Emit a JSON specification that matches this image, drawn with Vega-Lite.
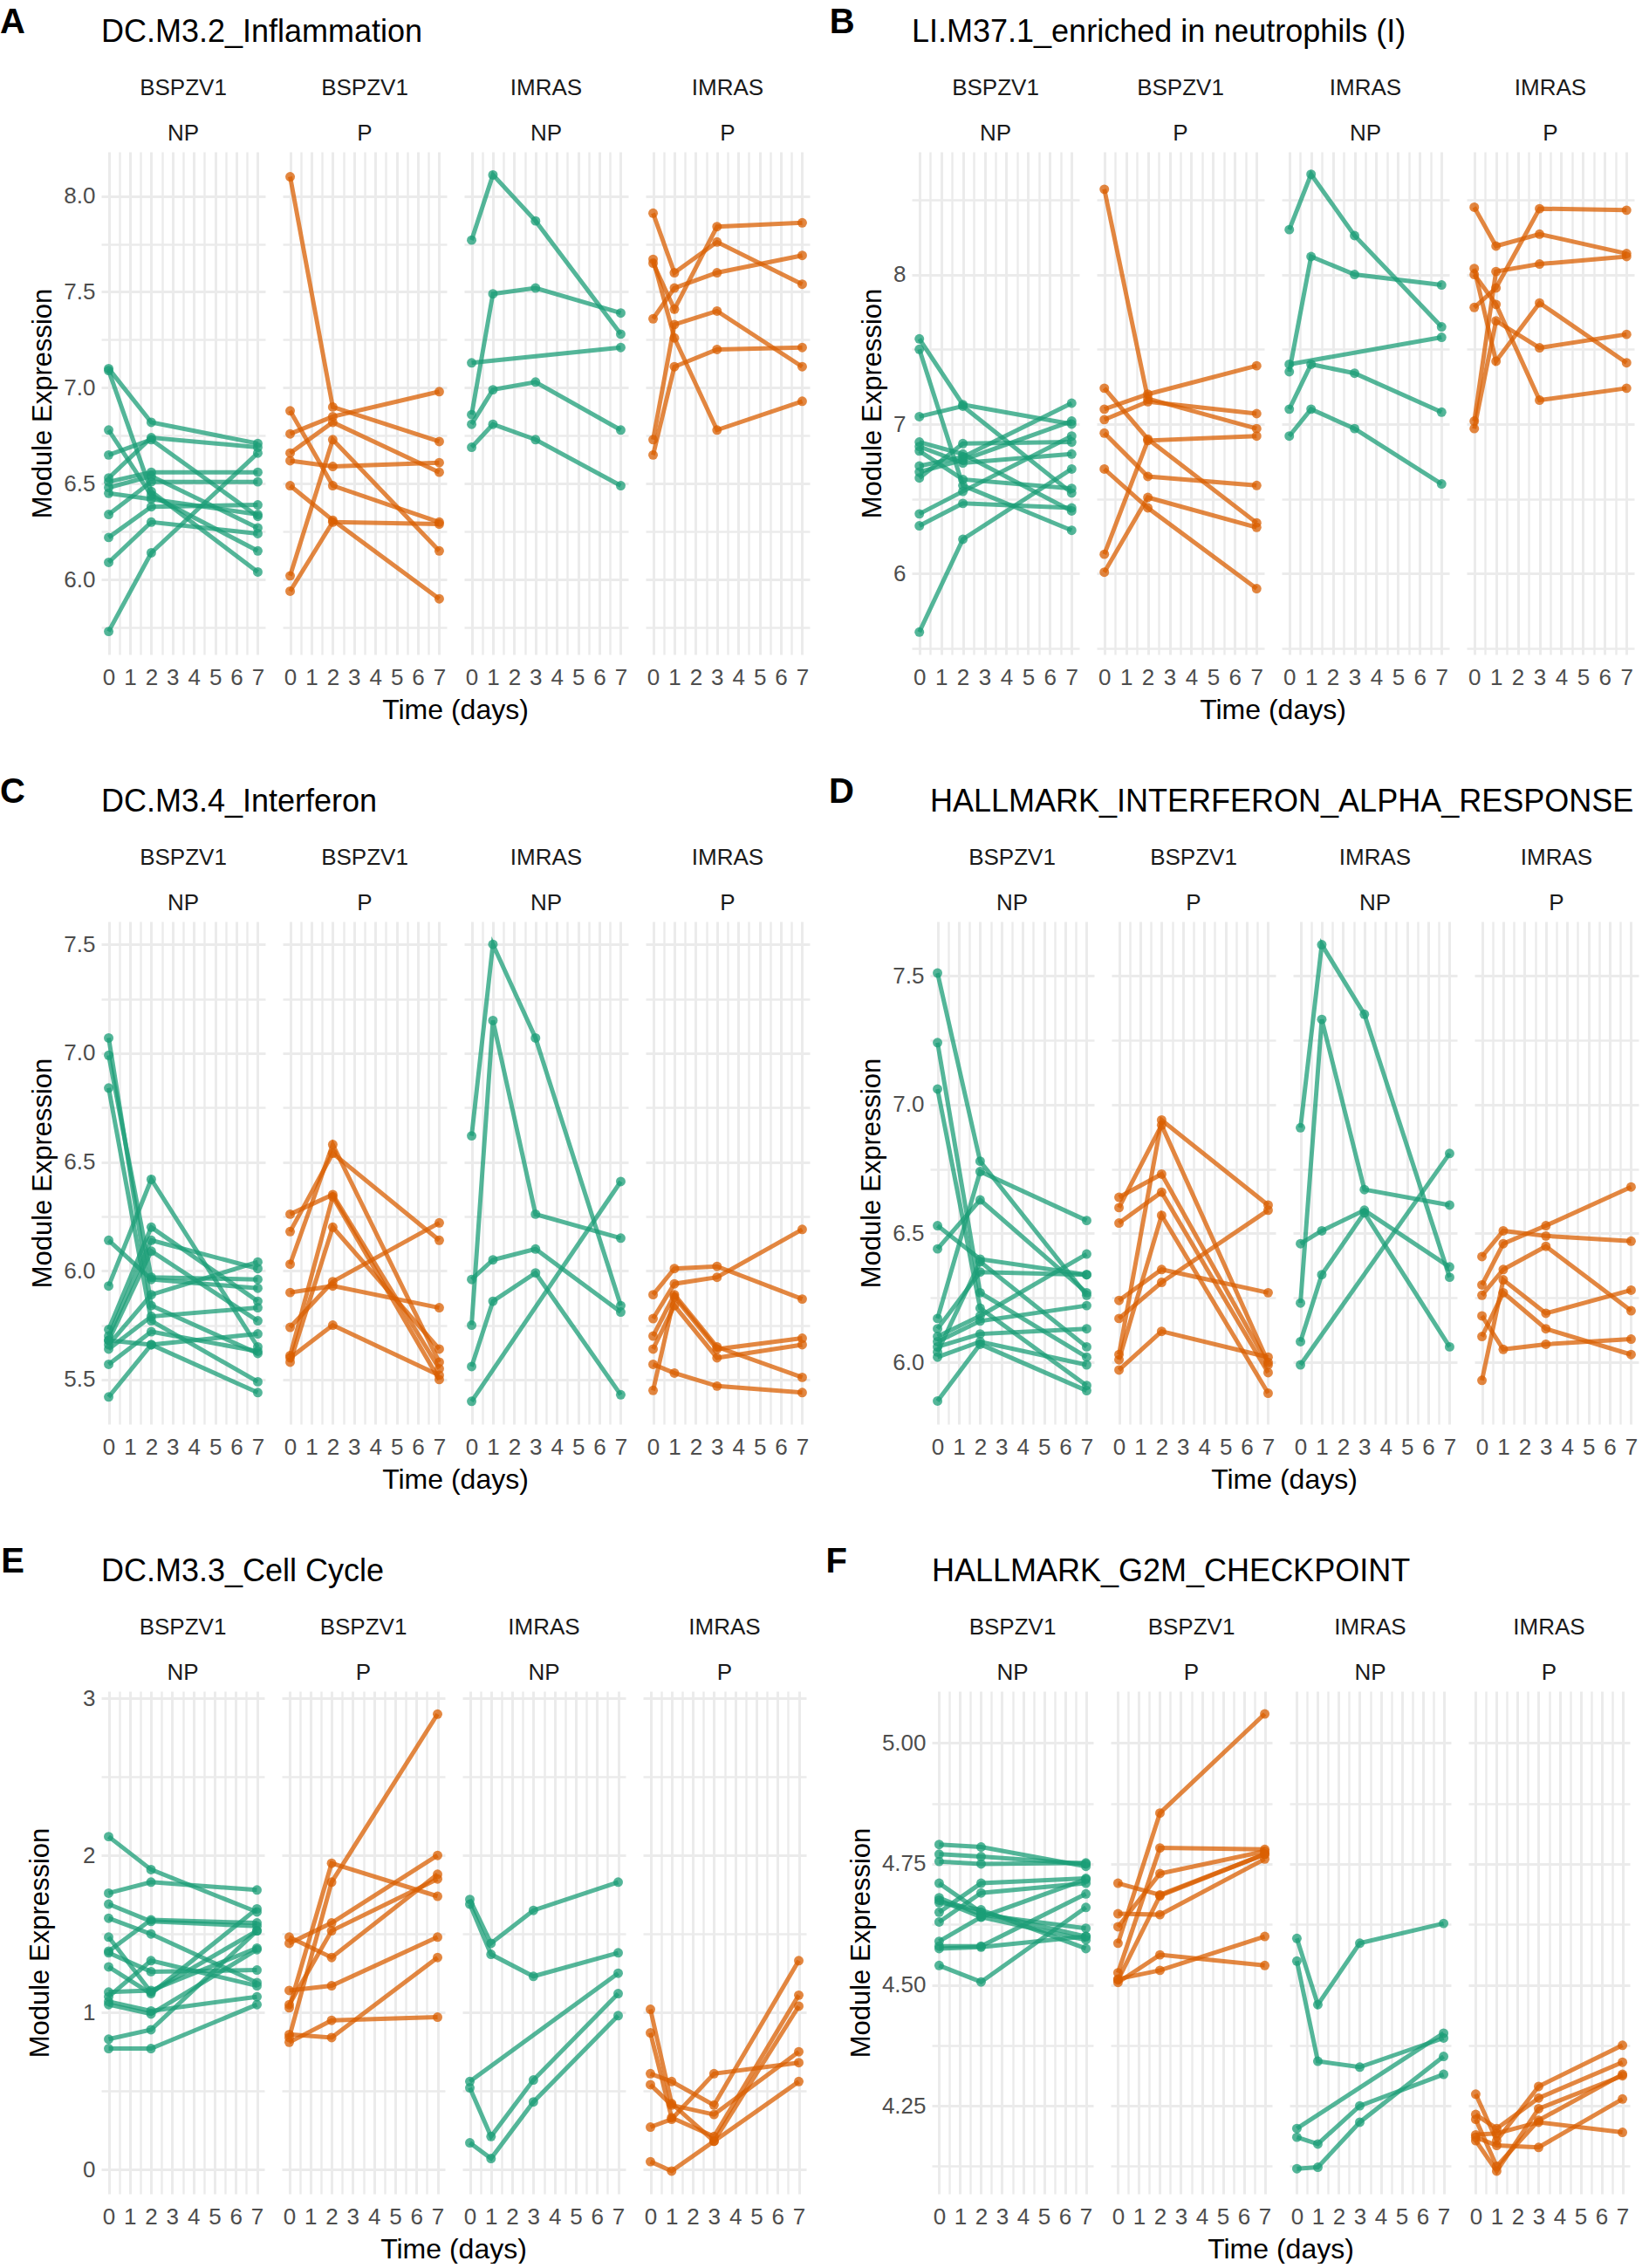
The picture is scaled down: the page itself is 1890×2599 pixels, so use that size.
{
"$schema": "https://vega.github.io/schema/vega-lite/v6.json",
"background": "white",
"padding": {"left": 0, "top": 6, "right": 0, "bottom": 0},
"config": {
  "font": "Liberation Sans",
  "view": {"stroke": null},
  "axis": {"labelFont": "Liberation Sans", "labelFontSize": 26, "labelColor": "#4D4D4D", "titleFont": "Liberation Sans", "titleFontSize": 31, "titleFontWeight": "normal", "titleColor": "#000000", "domain": false, "ticks": false, "tickSize": 0, "gridColor": "#EBEBEB", "labelOverlap": false, "labelFlush": false},
  "axisX": {"labelPadding": 13},
  "axisY": {"labelPadding": 5, "titlePadding": 7},
  "header": {"labelFont": "Liberation Sans", "labelFontSize": 26, "labelColor": "#1A1A1A", "labelExpr": "split(datum.value, ' ')", "labelLineHeight": 52, "labelPadding": 8, "labelOrient": "top", "titleOrient": "bottom", "titleFont": "Liberation Sans", "titleFontSize": 32, "titleFontWeight": "normal", "titleColor": "#000000", "titlePadding": 0},
  "title": {"font": "Liberation Sans", "fontSize": 36, "fontWeight": "normal", "anchor": "start", "frame": "group", "color": "#000000", "offset": 32},
  "concat": {"spacing": 20}
},
"datasets": {
"A": [
{"g":"BSPZV1 NP","s":"a1","d":0,"v":7.10},{"g":"BSPZV1 NP","s":"a1","d":2,"v":6.82},{"g":"BSPZV1 NP","s":"a1","d":7,"v":6.71},
{"g":"BSPZV1 NP","s":"a2","d":0,"v":7.09},{"g":"BSPZV1 NP","s":"a2","d":2,"v":6.46},{"g":"BSPZV1 NP","s":"a2","d":7,"v":6.04},
{"g":"BSPZV1 NP","s":"a3","d":0,"v":6.78},{"g":"BSPZV1 NP","s":"a3","d":2,"v":6.44},{"g":"BSPZV1 NP","s":"a3","d":7,"v":6.15},
{"g":"BSPZV1 NP","s":"a4","d":0,"v":6.65},{"g":"BSPZV1 NP","s":"a4","d":2,"v":6.73},{"g":"BSPZV1 NP","s":"a4","d":7,"v":6.33},
{"g":"BSPZV1 NP","s":"a5","d":0,"v":6.53},{"g":"BSPZV1 NP","s":"a5","d":2,"v":6.74},{"g":"BSPZV1 NP","s":"a5","d":7,"v":6.69},
{"g":"BSPZV1 NP","s":"a6","d":0,"v":6.51},{"g":"BSPZV1 NP","s":"a6","d":2,"v":6.56},{"g":"BSPZV1 NP","s":"a6","d":7,"v":6.56},
{"g":"BSPZV1 NP","s":"a7","d":0,"v":6.48},{"g":"BSPZV1 NP","s":"a7","d":2,"v":6.54},{"g":"BSPZV1 NP","s":"a7","d":7,"v":6.27},
{"g":"BSPZV1 NP","s":"a8","d":0,"v":6.45},{"g":"BSPZV1 NP","s":"a8","d":2,"v":6.42},{"g":"BSPZV1 NP","s":"a8","d":7,"v":6.34},
{"g":"BSPZV1 NP","s":"a9","d":0,"v":6.34},{"g":"BSPZV1 NP","s":"a9","d":2,"v":6.51},{"g":"BSPZV1 NP","s":"a9","d":7,"v":6.51},
{"g":"BSPZV1 NP","s":"a10","d":0,"v":6.22},{"g":"BSPZV1 NP","s":"a10","d":2,"v":6.38},{"g":"BSPZV1 NP","s":"a10","d":7,"v":6.39},
{"g":"BSPZV1 NP","s":"a11","d":0,"v":6.09},{"g":"BSPZV1 NP","s":"a11","d":2,"v":6.30},{"g":"BSPZV1 NP","s":"a11","d":7,"v":6.24},
{"g":"BSPZV1 NP","s":"a12","d":0,"v":5.73},{"g":"BSPZV1 NP","s":"a12","d":2,"v":6.14},{"g":"BSPZV1 NP","s":"a12","d":7,"v":6.66},
{"g":"BSPZV1 P","s":"p1","d":0,"v":8.10},{"g":"BSPZV1 P","s":"p1","d":2,"v":6.90},{"g":"BSPZV1 P","s":"p1","d":7,"v":6.72},
{"g":"BSPZV1 P","s":"p2","d":0,"v":6.76},{"g":"BSPZV1 P","s":"p2","d":2,"v":6.85},{"g":"BSPZV1 P","s":"p2","d":7,"v":6.98},
{"g":"BSPZV1 P","s":"p3","d":0,"v":6.88},{"g":"BSPZV1 P","s":"p3","d":2,"v":6.49},{"g":"BSPZV1 P","s":"p3","d":7,"v":6.30},
{"g":"BSPZV1 P","s":"p4","d":0,"v":6.66},{"g":"BSPZV1 P","s":"p4","d":2,"v":6.82},{"g":"BSPZV1 P","s":"p4","d":7,"v":6.56},
{"g":"BSPZV1 P","s":"p5","d":0,"v":6.62},{"g":"BSPZV1 P","s":"p5","d":2,"v":6.59},{"g":"BSPZV1 P","s":"p5","d":7,"v":6.61},
{"g":"BSPZV1 P","s":"p6","d":0,"v":6.49},{"g":"BSPZV1 P","s":"p6","d":2,"v":6.31},{"g":"BSPZV1 P","s":"p6","d":7,"v":5.90},
{"g":"BSPZV1 P","s":"p7","d":0,"v":6.02},{"g":"BSPZV1 P","s":"p7","d":2,"v":6.73},{"g":"BSPZV1 P","s":"p7","d":7,"v":6.15},
{"g":"BSPZV1 P","s":"p8","d":0,"v":5.94},{"g":"BSPZV1 P","s":"p8","d":2,"v":6.30},{"g":"BSPZV1 P","s":"p8","d":7,"v":6.29},
{"g":"IMRAS NP","s":"n1","d":0,"v":7.77},{"g":"IMRAS NP","s":"n1","d":1,"v":8.11},{"g":"IMRAS NP","s":"n1","d":3,"v":7.87},{"g":"IMRAS NP","s":"n1","d":7,"v":7.28},
{"g":"IMRAS NP","s":"n2","d":0,"v":6.86},{"g":"IMRAS NP","s":"n2","d":1,"v":7.49},{"g":"IMRAS NP","s":"n2","d":3,"v":7.52},{"g":"IMRAS NP","s":"n2","d":7,"v":7.39},
{"g":"IMRAS NP","s":"n3","d":0,"v":7.13},{"g":"IMRAS NP","s":"n3","d":7,"v":7.21},
{"g":"IMRAS NP","s":"n4","d":0,"v":6.81},{"g":"IMRAS NP","s":"n4","d":1,"v":6.99},{"g":"IMRAS NP","s":"n4","d":3,"v":7.03},{"g":"IMRAS NP","s":"n4","d":7,"v":6.78},
{"g":"IMRAS NP","s":"n5","d":0,"v":6.69},{"g":"IMRAS NP","s":"n5","d":1,"v":6.81},{"g":"IMRAS NP","s":"n5","d":3,"v":6.73},{"g":"IMRAS NP","s":"n5","d":7,"v":6.49},
{"g":"IMRAS P","s":"q1","d":0,"v":7.91},{"g":"IMRAS P","s":"q1","d":1,"v":7.60},{"g":"IMRAS P","s":"q1","d":3,"v":7.76},{"g":"IMRAS P","s":"q1","d":7,"v":7.54},
{"g":"IMRAS P","s":"q2","d":0,"v":7.36},{"g":"IMRAS P","s":"q2","d":1,"v":7.52},{"g":"IMRAS P","s":"q2","d":3,"v":7.60},{"g":"IMRAS P","s":"q2","d":7,"v":7.69},
{"g":"IMRAS P","s":"q3","d":0,"v":7.65},{"g":"IMRAS P","s":"q3","d":1,"v":7.41},{"g":"IMRAS P","s":"q3","d":3,"v":7.84},{"g":"IMRAS P","s":"q3","d":7,"v":7.86},
{"g":"IMRAS P","s":"q4","d":0,"v":7.67},{"g":"IMRAS P","s":"q4","d":1,"v":7.26},{"g":"IMRAS P","s":"q4","d":3,"v":6.78},{"g":"IMRAS P","s":"q4","d":7,"v":6.93},
{"g":"IMRAS P","s":"q5","d":0,"v":6.73},{"g":"IMRAS P","s":"q5","d":1,"v":7.33},{"g":"IMRAS P","s":"q5","d":3,"v":7.40},{"g":"IMRAS P","s":"q5","d":7,"v":7.11},
{"g":"IMRAS P","s":"q6","d":0,"v":6.65},{"g":"IMRAS P","s":"q6","d":1,"v":7.11},{"g":"IMRAS P","s":"q6","d":3,"v":7.20},{"g":"IMRAS P","s":"q6","d":7,"v":7.21}
],
"B": [
{"g":"BSPZV1 NP","s":"b1","d":0,"v":7.57},{"g":"BSPZV1 NP","s":"b1","d":2,"v":7.13},{"g":"BSPZV1 NP","s":"b1","d":7,"v":7.00},
{"g":"BSPZV1 NP","s":"b2","d":0,"v":7.50},{"g":"BSPZV1 NP","s":"b2","d":2,"v":6.59},{"g":"BSPZV1 NP","s":"b2","d":7,"v":6.29},
{"g":"BSPZV1 NP","s":"b3","d":0,"v":7.05},{"g":"BSPZV1 NP","s":"b3","d":2,"v":7.12},{"g":"BSPZV1 NP","s":"b3","d":7,"v":6.54},
{"g":"BSPZV1 NP","s":"b4","d":0,"v":6.88},{"g":"BSPZV1 NP","s":"b4","d":2,"v":6.80},{"g":"BSPZV1 NP","s":"b4","d":7,"v":6.42},
{"g":"BSPZV1 NP","s":"b5","d":0,"v":6.85},{"g":"BSPZV1 NP","s":"b5","d":2,"v":6.74},{"g":"BSPZV1 NP","s":"b5","d":7,"v":6.80},
{"g":"BSPZV1 NP","s":"b6","d":0,"v":6.82},{"g":"BSPZV1 NP","s":"b6","d":2,"v":6.63},{"g":"BSPZV1 NP","s":"b6","d":7,"v":6.57},
{"g":"BSPZV1 NP","s":"b7","d":0,"v":6.72},{"g":"BSPZV1 NP","s":"b7","d":2,"v":6.78},{"g":"BSPZV1 NP","s":"b7","d":7,"v":7.14},
{"g":"BSPZV1 NP","s":"b8","d":0,"v":6.64},{"g":"BSPZV1 NP","s":"b8","d":2,"v":6.87},{"g":"BSPZV1 NP","s":"b8","d":7,"v":6.88},
{"g":"BSPZV1 NP","s":"b9","d":0,"v":6.40},{"g":"BSPZV1 NP","s":"b9","d":2,"v":6.55},{"g":"BSPZV1 NP","s":"b9","d":7,"v":6.92},
{"g":"BSPZV1 NP","s":"b10","d":0,"v":6.32},{"g":"BSPZV1 NP","s":"b10","d":2,"v":6.47},{"g":"BSPZV1 NP","s":"b10","d":7,"v":6.44},
{"g":"BSPZV1 NP","s":"b11","d":0,"v":5.61},{"g":"BSPZV1 NP","s":"b11","d":2,"v":6.23},{"g":"BSPZV1 NP","s":"b11","d":7,"v":6.70},
{"g":"BSPZV1 NP","s":"b12","d":0,"v":6.68},{"g":"BSPZV1 NP","s":"b12","d":2,"v":6.76},{"g":"BSPZV1 NP","s":"b12","d":7,"v":7.02},
{"g":"BSPZV1 P","s":"c1","d":0,"v":8.57},{"g":"BSPZV1 P","s":"c1","d":2,"v":7.17},{"g":"BSPZV1 P","s":"c1","d":7,"v":6.97},
{"g":"BSPZV1 P","s":"c2","d":0,"v":7.24},{"g":"BSPZV1 P","s":"c2","d":2,"v":6.90},{"g":"BSPZV1 P","s":"c2","d":7,"v":6.34},
{"g":"BSPZV1 P","s":"c3","d":0,"v":7.10},{"g":"BSPZV1 P","s":"c3","d":2,"v":7.20},{"g":"BSPZV1 P","s":"c3","d":7,"v":7.39},
{"g":"BSPZV1 P","s":"c4","d":0,"v":7.03},{"g":"BSPZV1 P","s":"c4","d":2,"v":7.15},{"g":"BSPZV1 P","s":"c4","d":7,"v":7.07},
{"g":"BSPZV1 P","s":"c5","d":0,"v":6.94},{"g":"BSPZV1 P","s":"c5","d":2,"v":6.65},{"g":"BSPZV1 P","s":"c5","d":7,"v":6.59},
{"g":"BSPZV1 P","s":"c6","d":0,"v":6.70},{"g":"BSPZV1 P","s":"c6","d":2,"v":6.44},{"g":"BSPZV1 P","s":"c6","d":7,"v":5.90},
{"g":"BSPZV1 P","s":"c7","d":0,"v":6.13},{"g":"BSPZV1 P","s":"c7","d":2,"v":6.89},{"g":"BSPZV1 P","s":"c7","d":7,"v":6.92},
{"g":"BSPZV1 P","s":"c8","d":0,"v":6.01},{"g":"BSPZV1 P","s":"c8","d":2,"v":6.51},{"g":"BSPZV1 P","s":"c8","d":7,"v":6.31},
{"g":"IMRAS NP","s":"m1","d":0,"v":8.30},{"g":"IMRAS NP","s":"m1","d":1,"v":8.67},{"g":"IMRAS NP","s":"m1","d":3,"v":8.26},{"g":"IMRAS NP","s":"m1","d":7,"v":7.65},
{"g":"IMRAS NP","s":"m2","d":0,"v":7.35},{"g":"IMRAS NP","s":"m2","d":1,"v":8.12},{"g":"IMRAS NP","s":"m2","d":3,"v":8.00},{"g":"IMRAS NP","s":"m2","d":7,"v":7.93},
{"g":"IMRAS NP","s":"m3","d":0,"v":7.40},{"g":"IMRAS NP","s":"m3","d":7,"v":7.58},
{"g":"IMRAS NP","s":"m4","d":0,"v":7.10},{"g":"IMRAS NP","s":"m4","d":1,"v":7.40},{"g":"IMRAS NP","s":"m4","d":3,"v":7.34},{"g":"IMRAS NP","s":"m4","d":7,"v":7.08},
{"g":"IMRAS NP","s":"m5","d":0,"v":6.92},{"g":"IMRAS NP","s":"m5","d":1,"v":7.10},{"g":"IMRAS NP","s":"m5","d":3,"v":6.97},{"g":"IMRAS NP","s":"m5","d":7,"v":6.60},
{"g":"IMRAS P","s":"r1","d":0,"v":8.45},{"g":"IMRAS P","s":"r1","d":1,"v":8.19},{"g":"IMRAS P","s":"r1","d":3,"v":8.27},{"g":"IMRAS P","s":"r1","d":7,"v":8.14},
{"g":"IMRAS P","s":"r2","d":0,"v":7.78},{"g":"IMRAS P","s":"r2","d":1,"v":7.91},{"g":"IMRAS P","s":"r2","d":3,"v":8.44},{"g":"IMRAS P","s":"r2","d":7,"v":8.43},
{"g":"IMRAS P","s":"r3","d":0,"v":8.04},{"g":"IMRAS P","s":"r3","d":1,"v":7.42},{"g":"IMRAS P","s":"r3","d":3,"v":7.81},{"g":"IMRAS P","s":"r3","d":7,"v":7.41},
{"g":"IMRAS P","s":"r4","d":0,"v":8.00},{"g":"IMRAS P","s":"r4","d":1,"v":7.80},{"g":"IMRAS P","s":"r4","d":3,"v":7.16},{"g":"IMRAS P","s":"r4","d":7,"v":7.24},
{"g":"IMRAS P","s":"r5","d":0,"v":7.02},{"g":"IMRAS P","s":"r5","d":1,"v":8.02},{"g":"IMRAS P","s":"r5","d":3,"v":8.07},{"g":"IMRAS P","s":"r5","d":7,"v":8.12},
{"g":"IMRAS P","s":"r6","d":0,"v":6.97},{"g":"IMRAS P","s":"r6","d":1,"v":7.69},{"g":"IMRAS P","s":"r6","d":3,"v":7.51},{"g":"IMRAS P","s":"r6","d":7,"v":7.60}
],
"C": [
{"g":"BSPZV1 NP","s":"d1","d":0,"v":7.07},{"g":"BSPZV1 NP","s":"d1","d":2,"v":5.84},{"g":"BSPZV1 NP","s":"d1","d":7,"v":5.62},
{"g":"BSPZV1 NP","s":"d2","d":0,"v":6.99},{"g":"BSPZV1 NP","s":"d2","d":2,"v":5.97},{"g":"BSPZV1 NP","s":"d2","d":7,"v":5.96},
{"g":"BSPZV1 NP","s":"d3","d":0,"v":6.84},{"g":"BSPZV1 NP","s":"d3","d":2,"v":5.77},{"g":"BSPZV1 NP","s":"d3","d":7,"v":5.49},
{"g":"BSPZV1 NP","s":"d4","d":0,"v":6.14},{"g":"BSPZV1 NP","s":"d4","d":2,"v":5.96},{"g":"BSPZV1 NP","s":"d4","d":7,"v":5.92},
{"g":"BSPZV1 NP","s":"d5","d":0,"v":5.93},{"g":"BSPZV1 NP","s":"d5","d":2,"v":6.42},{"g":"BSPZV1 NP","s":"d5","d":7,"v":5.65},
{"g":"BSPZV1 NP","s":"d6","d":0,"v":5.73},{"g":"BSPZV1 NP","s":"d6","d":2,"v":6.20},{"g":"BSPZV1 NP","s":"d6","d":7,"v":5.86},
{"g":"BSPZV1 NP","s":"d7","d":0,"v":5.70},{"g":"BSPZV1 NP","s":"d7","d":2,"v":6.14},{"g":"BSPZV1 NP","s":"d7","d":7,"v":6.01},
{"g":"BSPZV1 NP","s":"d8","d":0,"v":5.68},{"g":"BSPZV1 NP","s":"d8","d":2,"v":6.09},{"g":"BSPZV1 NP","s":"d8","d":7,"v":5.77},
{"g":"BSPZV1 NP","s":"d9","d":0,"v":5.66},{"g":"BSPZV1 NP","s":"d9","d":2,"v":5.89},{"g":"BSPZV1 NP","s":"d9","d":7,"v":6.04},
{"g":"BSPZV1 NP","s":"d10","d":0,"v":5.64},{"g":"BSPZV1 NP","s":"d10","d":2,"v":5.79},{"g":"BSPZV1 NP","s":"d10","d":7,"v":5.83},
{"g":"BSPZV1 NP","s":"d11","d":0,"v":5.57},{"g":"BSPZV1 NP","s":"d11","d":2,"v":5.72},{"g":"BSPZV1 NP","s":"d11","d":7,"v":5.63},
{"g":"BSPZV1 NP","s":"d12","d":0,"v":5.42},{"g":"BSPZV1 NP","s":"d12","d":2,"v":5.66},{"g":"BSPZV1 NP","s":"d12","d":7,"v":5.71},
{"g":"BSPZV1 NP","s":"d13","d":0,"v":5.68},{"g":"BSPZV1 NP","s":"d13","d":2,"v":5.66},{"g":"BSPZV1 NP","s":"d13","d":7,"v":5.44},
{"g":"BSPZV1 P","s":"e1","d":0,"v":6.26},{"g":"BSPZV1 P","s":"e1","d":2,"v":6.35},{"g":"BSPZV1 P","s":"e1","d":7,"v":5.55},
{"g":"BSPZV1 P","s":"e2","d":0,"v":6.18},{"g":"BSPZV1 P","s":"e2","d":2,"v":6.54},{"g":"BSPZV1 P","s":"e2","d":7,"v":6.14},
{"g":"BSPZV1 P","s":"e3","d":0,"v":6.03},{"g":"BSPZV1 P","s":"e3","d":2,"v":6.58},{"g":"BSPZV1 P","s":"e3","d":7,"v":5.58},
{"g":"BSPZV1 P","s":"e4","d":0,"v":5.90},{"g":"BSPZV1 P","s":"e4","d":2,"v":5.93},{"g":"BSPZV1 P","s":"e4","d":7,"v":5.83},
{"g":"BSPZV1 P","s":"e5","d":0,"v":5.74},{"g":"BSPZV1 P","s":"e5","d":2,"v":5.95},{"g":"BSPZV1 P","s":"e5","d":7,"v":6.22},
{"g":"BSPZV1 P","s":"e6","d":0,"v":5.61},{"g":"BSPZV1 P","s":"e6","d":2,"v":6.34},{"g":"BSPZV1 P","s":"e6","d":7,"v":5.50},
{"g":"BSPZV1 P","s":"e7","d":0,"v":5.58},{"g":"BSPZV1 P","s":"e7","d":2,"v":6.20},{"g":"BSPZV1 P","s":"e7","d":7,"v":5.64},
{"g":"BSPZV1 P","s":"e8","d":0,"v":5.60},{"g":"BSPZV1 P","s":"e8","d":2,"v":5.75},{"g":"BSPZV1 P","s":"e8","d":7,"v":5.52},
{"g":"IMRAS NP","s":"k1","d":0,"v":6.62},{"g":"IMRAS NP","s":"k1","d":1,"v":7.50},{"g":"IMRAS NP","s":"k1","d":3,"v":7.07},{"g":"IMRAS NP","s":"k1","d":7,"v":5.84},
{"g":"IMRAS NP","s":"k2","d":0,"v":5.75},{"g":"IMRAS NP","s":"k2","d":1,"v":7.15},{"g":"IMRAS NP","s":"k2","d":3,"v":6.26},{"g":"IMRAS NP","s":"k2","d":7,"v":6.15},
{"g":"IMRAS NP","s":"k3","d":0,"v":5.96},{"g":"IMRAS NP","s":"k3","d":1,"v":6.05},{"g":"IMRAS NP","s":"k3","d":3,"v":6.10},{"g":"IMRAS NP","s":"k3","d":7,"v":5.81},
{"g":"IMRAS NP","s":"k4","d":0,"v":5.56},{"g":"IMRAS NP","s":"k4","d":1,"v":5.86},{"g":"IMRAS NP","s":"k4","d":3,"v":5.99},{"g":"IMRAS NP","s":"k4","d":7,"v":5.43},
{"g":"IMRAS NP","s":"k5","d":0,"v":5.40},{"g":"IMRAS NP","s":"k5","d":7,"v":6.41},
{"g":"IMRAS P","s":"o1","d":0,"v":5.89},{"g":"IMRAS P","s":"o1","d":1,"v":6.01},{"g":"IMRAS P","s":"o1","d":3,"v":6.02},{"g":"IMRAS P","s":"o1","d":7,"v":5.87},
{"g":"IMRAS P","s":"o2","d":0,"v":5.78},{"g":"IMRAS P","s":"o2","d":1,"v":5.94},{"g":"IMRAS P","s":"o2","d":3,"v":5.97},{"g":"IMRAS P","s":"o2","d":7,"v":6.19},
{"g":"IMRAS P","s":"o3","d":0,"v":5.70},{"g":"IMRAS P","s":"o3","d":1,"v":5.89},{"g":"IMRAS P","s":"o3","d":3,"v":5.65},{"g":"IMRAS P","s":"o3","d":7,"v":5.51},
{"g":"IMRAS P","s":"o4","d":0,"v":5.64},{"g":"IMRAS P","s":"o4","d":1,"v":5.84},{"g":"IMRAS P","s":"o4","d":3,"v":5.60},{"g":"IMRAS P","s":"o4","d":7,"v":5.66},
{"g":"IMRAS P","s":"o5","d":0,"v":5.57},{"g":"IMRAS P","s":"o5","d":1,"v":5.53},{"g":"IMRAS P","s":"o5","d":3,"v":5.47},{"g":"IMRAS P","s":"o5","d":7,"v":5.44},
{"g":"IMRAS P","s":"o6","d":0,"v":5.45},{"g":"IMRAS P","s":"o6","d":1,"v":5.88},{"g":"IMRAS P","s":"o6","d":3,"v":5.64},{"g":"IMRAS P","s":"o6","d":7,"v":5.69}
],
"D": [
{"g":"BSPZV1 NP","s":"D1","d":0,"v":7.51},{"g":"BSPZV1 NP","s":"D1","d":2,"v":6.78},{"g":"BSPZV1 NP","s":"D1","d":7,"v":6.26},
{"g":"BSPZV1 NP","s":"D2","d":0,"v":7.24},{"g":"BSPZV1 NP","s":"D2","d":2,"v":6.27},{"g":"BSPZV1 NP","s":"D2","d":7,"v":6.02},
{"g":"BSPZV1 NP","s":"D3","d":0,"v":7.06},{"g":"BSPZV1 NP","s":"D3","d":2,"v":6.21},{"g":"BSPZV1 NP","s":"D3","d":7,"v":5.91},
{"g":"BSPZV1 NP","s":"D4","d":0,"v":6.53},{"g":"BSPZV1 NP","s":"D4","d":2,"v":6.40},{"g":"BSPZV1 NP","s":"D4","d":7,"v":6.34},
{"g":"BSPZV1 NP","s":"D5","d":0,"v":6.44},{"g":"BSPZV1 NP","s":"D5","d":2,"v":6.63},{"g":"BSPZV1 NP","s":"D5","d":7,"v":6.27},
{"g":"BSPZV1 NP","s":"D6","d":0,"v":6.17},{"g":"BSPZV1 NP","s":"D6","d":2,"v":6.74},{"g":"BSPZV1 NP","s":"D6","d":7,"v":6.55},
{"g":"BSPZV1 NP","s":"D7","d":0,"v":6.13},{"g":"BSPZV1 NP","s":"D7","d":2,"v":6.35},{"g":"BSPZV1 NP","s":"D7","d":7,"v":6.34},
{"g":"BSPZV1 NP","s":"D8","d":0,"v":6.10},{"g":"BSPZV1 NP","s":"D8","d":2,"v":6.18},{"g":"BSPZV1 NP","s":"D8","d":7,"v":6.42},
{"g":"BSPZV1 NP","s":"D9","d":0,"v":6.08},{"g":"BSPZV1 NP","s":"D9","d":2,"v":6.16},{"g":"BSPZV1 NP","s":"D9","d":7,"v":6.22},
{"g":"BSPZV1 NP","s":"D10","d":0,"v":6.06},{"g":"BSPZV1 NP","s":"D10","d":2,"v":6.11},{"g":"BSPZV1 NP","s":"D10","d":7,"v":6.13},
{"g":"BSPZV1 NP","s":"D11","d":0,"v":6.04},{"g":"BSPZV1 NP","s":"D11","d":2,"v":6.39},{"g":"BSPZV1 NP","s":"D11","d":7,"v":6.06},
{"g":"BSPZV1 NP","s":"D12","d":0,"v":6.02},{"g":"BSPZV1 NP","s":"D12","d":2,"v":6.08},{"g":"BSPZV1 NP","s":"D12","d":7,"v":5.99},
{"g":"BSPZV1 NP","s":"D13","d":0,"v":5.85},{"g":"BSPZV1 NP","s":"D13","d":2,"v":6.07},{"g":"BSPZV1 NP","s":"D13","d":7,"v":5.89},
{"g":"BSPZV1 P","s":"E1","d":0,"v":6.64},{"g":"BSPZV1 P","s":"E1","d":2,"v":6.73},{"g":"BSPZV1 P","s":"E1","d":7,"v":5.99},
{"g":"BSPZV1 P","s":"E2","d":0,"v":6.54},{"g":"BSPZV1 P","s":"E2","d":2,"v":6.66},{"g":"BSPZV1 P","s":"E2","d":7,"v":5.96},
{"g":"BSPZV1 P","s":"E3","d":0,"v":6.24},{"g":"BSPZV1 P","s":"E3","d":2,"v":6.36},{"g":"BSPZV1 P","s":"E3","d":7,"v":6.27},
{"g":"BSPZV1 P","s":"E4","d":0,"v":6.17},{"g":"BSPZV1 P","s":"E4","d":2,"v":6.31},{"g":"BSPZV1 P","s":"E4","d":7,"v":6.59},
{"g":"BSPZV1 P","s":"E5","d":0,"v":6.03},{"g":"BSPZV1 P","s":"E5","d":2,"v":6.94},{"g":"BSPZV1 P","s":"E5","d":7,"v":6.61},
{"g":"BSPZV1 P","s":"E6","d":0,"v":6.01},{"g":"BSPZV1 P","s":"E6","d":2,"v":6.57},{"g":"BSPZV1 P","s":"E6","d":7,"v":5.88},
{"g":"BSPZV1 P","s":"E7","d":0,"v":5.97},{"g":"BSPZV1 P","s":"E7","d":2,"v":6.12},{"g":"BSPZV1 P","s":"E7","d":7,"v":6.02},
{"g":"BSPZV1 P","s":"E8","d":0,"v":6.60},{"g":"BSPZV1 P","s":"E8","d":2,"v":6.92},{"g":"BSPZV1 P","s":"E8","d":7,"v":6.00},
{"g":"IMRAS NP","s":"F1","d":0,"v":6.91},{"g":"IMRAS NP","s":"F1","d":1,"v":7.62},{"g":"IMRAS NP","s":"F1","d":3,"v":7.35},{"g":"IMRAS NP","s":"F1","d":7,"v":6.33},
{"g":"IMRAS NP","s":"F2","d":0,"v":6.23},{"g":"IMRAS NP","s":"F2","d":1,"v":7.33},{"g":"IMRAS NP","s":"F2","d":3,"v":6.67},{"g":"IMRAS NP","s":"F2","d":7,"v":6.61},
{"g":"IMRAS NP","s":"F3","d":0,"v":6.46},{"g":"IMRAS NP","s":"F3","d":1,"v":6.51},{"g":"IMRAS NP","s":"F3","d":3,"v":6.59},{"g":"IMRAS NP","s":"F3","d":7,"v":6.37},
{"g":"IMRAS NP","s":"F4","d":0,"v":6.08},{"g":"IMRAS NP","s":"F4","d":1,"v":6.34},{"g":"IMRAS NP","s":"F4","d":3,"v":6.58},{"g":"IMRAS NP","s":"F4","d":7,"v":6.06},
{"g":"IMRAS NP","s":"F5","d":0,"v":5.99},{"g":"IMRAS NP","s":"F5","d":7,"v":6.81},
{"g":"IMRAS P","s":"G1","d":0,"v":6.41},{"g":"IMRAS P","s":"G1","d":1,"v":6.51},{"g":"IMRAS P","s":"G1","d":3,"v":6.49},{"g":"IMRAS P","s":"G1","d":7,"v":6.47},
{"g":"IMRAS P","s":"G2","d":0,"v":6.30},{"g":"IMRAS P","s":"G2","d":1,"v":6.46},{"g":"IMRAS P","s":"G2","d":3,"v":6.53},{"g":"IMRAS P","s":"G2","d":7,"v":6.68},
{"g":"IMRAS P","s":"G3","d":0,"v":6.26},{"g":"IMRAS P","s":"G3","d":1,"v":6.36},{"g":"IMRAS P","s":"G3","d":3,"v":6.45},{"g":"IMRAS P","s":"G3","d":7,"v":6.20},
{"g":"IMRAS P","s":"G4","d":0,"v":6.18},{"g":"IMRAS P","s":"G4","d":1,"v":6.05},{"g":"IMRAS P","s":"G4","d":3,"v":6.07},{"g":"IMRAS P","s":"G4","d":7,"v":6.09},
{"g":"IMRAS P","s":"G5","d":0,"v":6.10},{"g":"IMRAS P","s":"G5","d":1,"v":6.27},{"g":"IMRAS P","s":"G5","d":3,"v":6.13},{"g":"IMRAS P","s":"G5","d":7,"v":6.03},
{"g":"IMRAS P","s":"G6","d":0,"v":5.93},{"g":"IMRAS P","s":"G6","d":1,"v":6.32},{"g":"IMRAS P","s":"G6","d":3,"v":6.19},{"g":"IMRAS P","s":"G6","d":7,"v":6.28}
],
"E": [
{"g":"BSPZV1 NP","s":"H1","d":0,"v":2.12},{"g":"BSPZV1 NP","s":"H1","d":2,"v":1.91},{"g":"BSPZV1 NP","s":"H1","d":7,"v":1.64},
{"g":"BSPZV1 NP","s":"H2","d":0,"v":1.76},{"g":"BSPZV1 NP","s":"H2","d":2,"v":1.83},{"g":"BSPZV1 NP","s":"H2","d":7,"v":1.78},
{"g":"BSPZV1 NP","s":"H3","d":0,"v":1.69},{"g":"BSPZV1 NP","s":"H3","d":2,"v":1.58},{"g":"BSPZV1 NP","s":"H3","d":7,"v":1.55},
{"g":"BSPZV1 NP","s":"H4","d":0,"v":1.60},{"g":"BSPZV1 NP","s":"H4","d":2,"v":1.50},{"g":"BSPZV1 NP","s":"H4","d":7,"v":1.19},
{"g":"BSPZV1 NP","s":"H5","d":0,"v":1.48},{"g":"BSPZV1 NP","s":"H5","d":2,"v":1.13},{"g":"BSPZV1 NP","s":"H5","d":7,"v":1.52},
{"g":"BSPZV1 NP","s":"H6","d":0,"v":1.39},{"g":"BSPZV1 NP","s":"H6","d":2,"v":1.59},{"g":"BSPZV1 NP","s":"H6","d":7,"v":1.57},
{"g":"BSPZV1 NP","s":"H7","d":0,"v":1.38},{"g":"BSPZV1 NP","s":"H7","d":2,"v":1.26},{"g":"BSPZV1 NP","s":"H7","d":7,"v":1.27},
{"g":"BSPZV1 NP","s":"H8","d":0,"v":1.29},{"g":"BSPZV1 NP","s":"H8","d":2,"v":1.12},{"g":"BSPZV1 NP","s":"H8","d":7,"v":1.66},
{"g":"BSPZV1 NP","s":"H9","d":0,"v":1.13},{"g":"BSPZV1 NP","s":"H9","d":2,"v":1.14},{"g":"BSPZV1 NP","s":"H9","d":7,"v":1.41},
{"g":"BSPZV1 NP","s":"H10","d":0,"v":1.10},{"g":"BSPZV1 NP","s":"H10","d":2,"v":1.33},{"g":"BSPZV1 NP","s":"H10","d":7,"v":1.17},
{"g":"BSPZV1 NP","s":"H11","d":0,"v":1.07},{"g":"BSPZV1 NP","s":"H11","d":2,"v":1.01},{"g":"BSPZV1 NP","s":"H11","d":7,"v":1.10},
{"g":"BSPZV1 NP","s":"H12","d":0,"v":1.05},{"g":"BSPZV1 NP","s":"H12","d":2,"v":0.99},{"g":"BSPZV1 NP","s":"H12","d":7,"v":1.40},
{"g":"BSPZV1 NP","s":"H13","d":0,"v":0.83},{"g":"BSPZV1 NP","s":"H13","d":2,"v":0.89},{"g":"BSPZV1 NP","s":"H13","d":7,"v":1.52},
{"g":"BSPZV1 NP","s":"H14","d":0,"v":0.77},{"g":"BSPZV1 NP","s":"H14","d":2,"v":0.77},{"g":"BSPZV1 NP","s":"H14","d":7,"v":1.05},
{"g":"BSPZV1 P","s":"I1","d":0,"v":0.84},{"g":"BSPZV1 P","s":"I1","d":2,"v":1.83},{"g":"BSPZV1 P","s":"I1","d":7,"v":2.90},
{"g":"BSPZV1 P","s":"I2","d":0,"v":1.03},{"g":"BSPZV1 P","s":"I2","d":2,"v":1.95},{"g":"BSPZV1 P","s":"I2","d":7,"v":1.74},
{"g":"BSPZV1 P","s":"I3","d":0,"v":1.48},{"g":"BSPZV1 P","s":"I3","d":2,"v":1.35},{"g":"BSPZV1 P","s":"I3","d":7,"v":1.88},
{"g":"BSPZV1 P","s":"I4","d":0,"v":1.44},{"g":"BSPZV1 P","s":"I4","d":2,"v":1.57},{"g":"BSPZV1 P","s":"I4","d":7,"v":2.00},
{"g":"BSPZV1 P","s":"I5","d":0,"v":1.05},{"g":"BSPZV1 P","s":"I5","d":2,"v":1.52},{"g":"BSPZV1 P","s":"I5","d":7,"v":1.85},
{"g":"BSPZV1 P","s":"I6","d":0,"v":1.14},{"g":"BSPZV1 P","s":"I6","d":2,"v":1.17},{"g":"BSPZV1 P","s":"I6","d":7,"v":1.48},
{"g":"BSPZV1 P","s":"I7","d":0,"v":0.86},{"g":"BSPZV1 P","s":"I7","d":2,"v":0.84},{"g":"BSPZV1 P","s":"I7","d":7,"v":1.35},
{"g":"BSPZV1 P","s":"I8","d":0,"v":0.81},{"g":"BSPZV1 P","s":"I8","d":2,"v":0.95},{"g":"BSPZV1 P","s":"I8","d":7,"v":0.97},
{"g":"IMRAS NP","s":"J1","d":0,"v":1.72},{"g":"IMRAS NP","s":"J1","d":1,"v":1.44},{"g":"IMRAS NP","s":"J1","d":3,"v":1.65},{"g":"IMRAS NP","s":"J1","d":7,"v":1.83},
{"g":"IMRAS NP","s":"J2","d":0,"v":1.69},{"g":"IMRAS NP","s":"J2","d":1,"v":1.37},{"g":"IMRAS NP","s":"J2","d":3,"v":1.23},{"g":"IMRAS NP","s":"J2","d":7,"v":1.38},
{"g":"IMRAS NP","s":"J3","d":0,"v":0.56},{"g":"IMRAS NP","s":"J3","d":7,"v":1.25},
{"g":"IMRAS NP","s":"J4","d":0,"v":0.52},{"g":"IMRAS NP","s":"J4","d":1,"v":0.21},{"g":"IMRAS NP","s":"J4","d":3,"v":0.57},{"g":"IMRAS NP","s":"J4","d":7,"v":1.12},
{"g":"IMRAS NP","s":"J5","d":0,"v":0.17},{"g":"IMRAS NP","s":"J5","d":1,"v":0.07},{"g":"IMRAS NP","s":"J5","d":3,"v":0.43},{"g":"IMRAS NP","s":"J5","d":7,"v":0.98},
{"g":"IMRAS P","s":"K1","d":0,"v":1.02},{"g":"IMRAS P","s":"K1","d":1,"v":0.42},{"g":"IMRAS P","s":"K1","d":3,"v":0.18},{"g":"IMRAS P","s":"K1","d":7,"v":1.04},
{"g":"IMRAS P","s":"K2","d":0,"v":0.87},{"g":"IMRAS P","s":"K2","d":1,"v":0.33},{"g":"IMRAS P","s":"K2","d":3,"v":0.21},{"g":"IMRAS P","s":"K2","d":7,"v":1.11},
{"g":"IMRAS P","s":"K3","d":0,"v":0.61},{"g":"IMRAS P","s":"K3","d":1,"v":0.56},{"g":"IMRAS P","s":"K3","d":3,"v":0.41},{"g":"IMRAS P","s":"K3","d":7,"v":1.33},
{"g":"IMRAS P","s":"K4","d":0,"v":0.54},{"g":"IMRAS P","s":"K4","d":1,"v":0.41},{"g":"IMRAS P","s":"K4","d":3,"v":0.35},{"g":"IMRAS P","s":"K4","d":7,"v":0.75},
{"g":"IMRAS P","s":"K5","d":0,"v":0.27},{"g":"IMRAS P","s":"K5","d":1,"v":0.32},{"g":"IMRAS P","s":"K5","d":3,"v":0.61},{"g":"IMRAS P","s":"K5","d":7,"v":0.68},
{"g":"IMRAS P","s":"K6","d":0,"v":0.05},{"g":"IMRAS P","s":"K6","d":1,"v":-0.01},{"g":"IMRAS P","s":"K6","d":3,"v":0.18},{"g":"IMRAS P","s":"K6","d":7,"v":0.56}
],
"F": [
{"g":"BSPZV1 NP","s":"L1","d":0,"v":4.79},{"g":"BSPZV1 NP","s":"L1","d":2,"v":4.785},{"g":"BSPZV1 NP","s":"L1","d":7,"v":4.745},
{"g":"BSPZV1 NP","s":"L2","d":0,"v":4.77},{"g":"BSPZV1 NP","s":"L2","d":2,"v":4.765},{"g":"BSPZV1 NP","s":"L2","d":7,"v":4.75},
{"g":"BSPZV1 NP","s":"L3","d":0,"v":4.755},{"g":"BSPZV1 NP","s":"L3","d":2,"v":4.75},{"g":"BSPZV1 NP","s":"L3","d":7,"v":4.752},
{"g":"BSPZV1 NP","s":"L4","d":0,"v":4.71},{"g":"BSPZV1 NP","s":"L4","d":2,"v":4.65},{"g":"BSPZV1 NP","s":"L4","d":7,"v":4.60},
{"g":"BSPZV1 NP","s":"L5","d":0,"v":4.68},{"g":"BSPZV1 NP","s":"L5","d":2,"v":4.645},{"g":"BSPZV1 NP","s":"L5","d":7,"v":4.617},
{"g":"BSPZV1 NP","s":"L6","d":0,"v":4.675},{"g":"BSPZV1 NP","s":"L6","d":2,"v":4.64},{"g":"BSPZV1 NP","s":"L6","d":7,"v":4.593},
{"g":"BSPZV1 NP","s":"L7","d":0,"v":4.67},{"g":"BSPZV1 NP","s":"L7","d":2,"v":4.655},{"g":"BSPZV1 NP","s":"L7","d":7,"v":4.575},
{"g":"BSPZV1 NP","s":"L8","d":0,"v":4.65},{"g":"BSPZV1 NP","s":"L8","d":2,"v":4.71},{"g":"BSPZV1 NP","s":"L8","d":7,"v":4.72},
{"g":"BSPZV1 NP","s":"L9","d":0,"v":4.63},{"g":"BSPZV1 NP","s":"L9","d":2,"v":4.69},{"g":"BSPZV1 NP","s":"L9","d":7,"v":4.71},
{"g":"BSPZV1 NP","s":"L10","d":0,"v":4.59},{"g":"BSPZV1 NP","s":"L10","d":2,"v":4.64},{"g":"BSPZV1 NP","s":"L10","d":7,"v":4.718},
{"g":"BSPZV1 NP","s":"L11","d":0,"v":4.58},{"g":"BSPZV1 NP","s":"L11","d":2,"v":4.58},{"g":"BSPZV1 NP","s":"L11","d":7,"v":4.688},
{"g":"BSPZV1 NP","s":"L12","d":0,"v":4.575},{"g":"BSPZV1 NP","s":"L12","d":2,"v":4.578},{"g":"BSPZV1 NP","s":"L12","d":7,"v":4.60},
{"g":"BSPZV1 NP","s":"L13","d":0,"v":4.54},{"g":"BSPZV1 NP","s":"L13","d":2,"v":4.506},{"g":"BSPZV1 NP","s":"L13","d":7,"v":4.66},
{"g":"BSPZV1 P","s":"M1","d":0,"v":4.71},{"g":"BSPZV1 P","s":"M1","d":2,"v":4.686},{"g":"BSPZV1 P","s":"M1","d":7,"v":4.77},
{"g":"BSPZV1 P","s":"M2","d":0,"v":4.586},{"g":"BSPZV1 P","s":"M2","d":2,"v":4.855},{"g":"BSPZV1 P","s":"M2","d":7,"v":5.06},
{"g":"BSPZV1 P","s":"M3","d":0,"v":4.647},{"g":"BSPZV1 P","s":"M3","d":2,"v":4.645},{"g":"BSPZV1 P","s":"M3","d":7,"v":4.76},
{"g":"BSPZV1 P","s":"M4","d":0,"v":4.62},{"g":"BSPZV1 P","s":"M4","d":2,"v":4.73},{"g":"BSPZV1 P","s":"M4","d":7,"v":4.776},
{"g":"BSPZV1 P","s":"M5","d":0,"v":4.525},{"g":"BSPZV1 P","s":"M5","d":2,"v":4.783},{"g":"BSPZV1 P","s":"M5","d":7,"v":4.78},
{"g":"BSPZV1 P","s":"M6","d":0,"v":4.51},{"g":"BSPZV1 P","s":"M6","d":2,"v":4.684},{"g":"BSPZV1 P","s":"M6","d":7,"v":4.77},
{"g":"BSPZV1 P","s":"M7","d":0,"v":4.505},{"g":"BSPZV1 P","s":"M7","d":2,"v":4.562},{"g":"BSPZV1 P","s":"M7","d":7,"v":4.54},
{"g":"BSPZV1 P","s":"M8","d":0,"v":4.512},{"g":"BSPZV1 P","s":"M8","d":2,"v":4.53},{"g":"BSPZV1 P","s":"M8","d":7,"v":4.60},
{"g":"IMRAS NP","s":"N1","d":0,"v":4.596},{"g":"IMRAS NP","s":"N1","d":1,"v":4.459},{"g":"IMRAS NP","s":"N1","d":3,"v":4.586},{"g":"IMRAS NP","s":"N1","d":7,"v":4.627},
{"g":"IMRAS NP","s":"N2","d":0,"v":4.549},{"g":"IMRAS NP","s":"N2","d":1,"v":4.342},{"g":"IMRAS NP","s":"N2","d":3,"v":4.33},{"g":"IMRAS NP","s":"N2","d":7,"v":4.39},
{"g":"IMRAS NP","s":"N3","d":0,"v":4.203},{"g":"IMRAS NP","s":"N3","d":7,"v":4.40},
{"g":"IMRAS NP","s":"N4","d":0,"v":4.185},{"g":"IMRAS NP","s":"N4","d":1,"v":4.171},{"g":"IMRAS NP","s":"N4","d":3,"v":4.25},{"g":"IMRAS NP","s":"N4","d":7,"v":4.315},
{"g":"IMRAS NP","s":"N5","d":0,"v":4.12},{"g":"IMRAS NP","s":"N5","d":1,"v":4.123},{"g":"IMRAS NP","s":"N5","d":3,"v":4.216},{"g":"IMRAS NP","s":"N5","d":7,"v":4.352},
{"g":"IMRAS P","s":"O1","d":0,"v":4.274},{"g":"IMRAS P","s":"O1","d":1,"v":4.178},{"g":"IMRAS P","s":"O1","d":3,"v":4.29},{"g":"IMRAS P","s":"O1","d":7,"v":4.375},
{"g":"IMRAS P","s":"O2","d":0,"v":4.232},{"g":"IMRAS P","s":"O2","d":1,"v":4.203},{"g":"IMRAS P","s":"O2","d":3,"v":4.266},{"g":"IMRAS P","s":"O2","d":7,"v":4.34},
{"g":"IMRAS P","s":"O3","d":0,"v":4.222},{"g":"IMRAS P","s":"O3","d":1,"v":4.125},{"g":"IMRAS P","s":"O3","d":3,"v":4.22},{"g":"IMRAS P","s":"O3","d":7,"v":4.315},
{"g":"IMRAS P","s":"O4","d":0,"v":4.19},{"g":"IMRAS P","s":"O4","d":1,"v":4.193},{"g":"IMRAS P","s":"O4","d":3,"v":4.216},{"g":"IMRAS P","s":"O4","d":7,"v":4.195},
{"g":"IMRAS P","s":"O5","d":0,"v":4.178},{"g":"IMRAS P","s":"O5","d":1,"v":4.115},{"g":"IMRAS P","s":"O5","d":3,"v":4.244},{"g":"IMRAS P","s":"O5","d":7,"v":4.312},
{"g":"IMRAS P","s":"O6","d":0,"v":4.185},{"g":"IMRAS P","s":"O6","d":1,"v":4.168},{"g":"IMRAS P","s":"O6","d":3,"v":4.164},{"g":"IMRAS P","s":"O6","d":7,"v":4.264}
]
},
"align": "none",
"spacing": 58,
"vconcat": [
{"hconcat": [
{"title": {"text": "A", "orient": "left", "angle": 0, "anchor": "end", "frame": "bounds", "align": "right", "baseline": "top", "fontSize": 40, "fontWeight": "bold", "offset": -24, "dy": -13},
 "vconcat": [{
  "data": {"name": "A"},
  "title": {"text": "DC.M3.2_Inflammation"},
  "facet": {"column": {"field": "g", "type": "nominal", "header": {"title": "Time (days)"}}},
  "spacing": 16,
  "spec": {"width": 188, "height": 576,
   "encoding": {
    "x": {"field": "d", "type": "quantitative", "scale": {"domain": [-0.35, 7.35], "nice": false, "zero": false}, "axis": {"title": null, "values": [0,0.5,1,1.5,2,2.5,3,3.5,4,4.5,5,5.5,6,6.5,7], "labelExpr": "datum.value % 1 == 0 ? format(datum.value, 'd') : ''", "gridWidth": {"condition": {"test": "datum.value % 1 == 0", "value": 3}, "value": 2.4}}},
    "y": {"field": "v", "type": "quantitative", "scale": {"domain": [5.61, 8.23], "nice": false, "zero": false}, "axis": {"title": "Module Expression", "values": [5.75,6,6.25,6.5,6.75,7,7.25,7.5,7.75,8], "labelExpr": "(datum.value*2) % 1 == 0 ? format(datum.value, '.1f') : ''", "gridWidth": {"condition": {"test": "(datum.value*2) % 1 == 0", "value": 3}, "value": 2.4}}},
    "color": {"field": "g", "type": "nominal", "scale": {"domain": ["BSPZV1 NP","BSPZV1 P","IMRAS NP","IMRAS P"], "range": ["#1B9E77","#D95F02","#1B9E77","#D95F02"]}, "legend": null},
    "detail": {"field": "s", "type": "nominal"}
   },
   "layer": [
    {"mark": {"type": "line", "strokeWidth": 5, "opacity": 0.75}, "encoding": {}},
    {"mark": {"type": "circle", "size": 120, "opacity": 0.75}, "encoding": {}}
   ]
  }
 }]
},
{"title": {"text": "B", "orient": "left", "angle": 0, "anchor": "end", "frame": "bounds", "align": "right", "baseline": "top", "fontSize": 40, "fontWeight": "bold", "offset": -24, "dy": -13},
 "vconcat": [{
  "data": {"name": "B"},
  "title": {"text": "LI.M37.1_enriched in neutrophils (I)"},
  "facet": {"column": {"field": "g", "type": "nominal", "header": {"title": "Time (days)"}}},
  "spacing": 16,
  "spec": {"width": 192, "height": 576,
   "encoding": {
    "x": {"field": "d", "type": "quantitative", "scale": {"domain": [-0.35, 7.35], "nice": false, "zero": false}, "axis": {"title": null, "values": [0,0.5,1,1.5,2,2.5,3,3.5,4,4.5,5,5.5,6,6.5,7], "labelExpr": "datum.value % 1 == 0 ? format(datum.value, 'd') : ''", "gridWidth": {"condition": {"test": "datum.value % 1 == 0", "value": 3}, "value": 2.4}}},
    "y": {"field": "v", "type": "quantitative", "scale": {"domain": [5.46, 8.82], "nice": false, "zero": false}, "axis": {"title": "Module Expression", "values": [5.5,6,6.5,7,7.5,8,8.5], "labelExpr": "datum.value % 1 == 0 ? format(datum.value, 'd') : ''", "gridWidth": {"condition": {"test": "datum.value % 1 == 0", "value": 3}, "value": 2.4}}},
    "color": {"field": "g", "type": "nominal", "scale": {"domain": ["BSPZV1 NP","BSPZV1 P","IMRAS NP","IMRAS P"], "range": ["#1B9E77","#D95F02","#1B9E77","#D95F02"]}, "legend": null},
    "detail": {"field": "s", "type": "nominal"}
   },
   "layer": [
    {"mark": {"type": "line", "strokeWidth": 5, "opacity": 0.75}, "encoding": {}},
    {"mark": {"type": "circle", "size": 120, "opacity": 0.75}, "encoding": {}}
   ]
  }
 }]
}
], "align": "none", "spacing": 20},
{"hconcat": [
{"title": {"text": "C", "orient": "left", "angle": 0, "anchor": "end", "frame": "bounds", "align": "right", "baseline": "top", "fontSize": 40, "fontWeight": "bold", "offset": -24, "dy": -13},
 "vconcat": [{
  "data": {"name": "C"},
  "title": {"text": "DC.M3.4_Interferon"},
  "facet": {"column": {"field": "g", "type": "nominal", "header": {"title": "Time (days)"}}},
  "spacing": 16,
  "spec": {"width": 188, "height": 576,
   "encoding": {
    "x": {"field": "d", "type": "quantitative", "scale": {"domain": [-0.35, 7.35], "nice": false, "zero": false}, "axis": {"title": null, "values": [0,0.5,1,1.5,2,2.5,3,3.5,4,4.5,5,5.5,6,6.5,7], "labelExpr": "datum.value % 1 == 0 ? format(datum.value, 'd') : ''", "gridWidth": {"condition": {"test": "datum.value % 1 == 0", "value": 3}, "value": 2.4}}},
    "y": {"field": "v", "type": "quantitative", "scale": {"domain": [5.295, 7.605], "nice": false, "zero": false}, "axis": {"title": "Module Expression", "values": [5.5,5.75,6,6.25,6.5,6.75,7,7.25,7.5], "labelExpr": "(datum.value*2) % 1 == 0 ? format(datum.value, '.1f') : ''", "gridWidth": {"condition": {"test": "(datum.value*2) % 1 == 0", "value": 3}, "value": 2.4}}},
    "color": {"field": "g", "type": "nominal", "scale": {"domain": ["BSPZV1 NP","BSPZV1 P","IMRAS NP","IMRAS P"], "range": ["#1B9E77","#D95F02","#1B9E77","#D95F02"]}, "legend": null},
    "detail": {"field": "s", "type": "nominal"}
   },
   "layer": [
    {"mark": {"type": "line", "strokeWidth": 5, "opacity": 0.75}, "encoding": {}},
    {"mark": {"type": "circle", "size": 120, "opacity": 0.75}, "encoding": {}}
   ]
  }
 }]
},
{"title": {"text": "D", "orient": "left", "angle": 0, "anchor": "end", "frame": "bounds", "align": "right", "baseline": "top", "fontSize": 40, "fontWeight": "bold", "offset": -24, "dy": -13},
 "vconcat": [{
  "data": {"name": "D"},
  "title": {"text": "HALLMARK_INTERFERON_ALPHA_RESPONSE"},
  "facet": {"column": {"field": "g", "type": "nominal", "header": {"title": "Time (days)"}}},
  "spacing": 16,
  "spec": {"width": 188, "height": 576,
   "encoding": {
    "x": {"field": "d", "type": "quantitative", "scale": {"domain": [-0.35, 7.35], "nice": false, "zero": false}, "axis": {"title": null, "values": [0,0.5,1,1.5,2,2.5,3,3.5,4,4.5,5,5.5,6,6.5,7], "labelExpr": "datum.value % 1 == 0 ? format(datum.value, 'd') : ''", "gridWidth": {"condition": {"test": "datum.value % 1 == 0", "value": 3}, "value": 2.4}}},
    "y": {"field": "v", "type": "quantitative", "scale": {"domain": [5.76, 7.71], "nice": false, "zero": false}, "axis": {"title": "Module Expression", "values": [6,6.25,6.5,6.75,7,7.25,7.5], "labelExpr": "(datum.value*2) % 1 == 0 ? format(datum.value, '.1f') : ''", "gridWidth": {"condition": {"test": "(datum.value*2) % 1 == 0", "value": 3}, "value": 2.4}}},
    "color": {"field": "g", "type": "nominal", "scale": {"domain": ["BSPZV1 NP","BSPZV1 P","IMRAS NP","IMRAS P"], "range": ["#1B9E77","#D95F02","#1B9E77","#D95F02"]}, "legend": null},
    "detail": {"field": "s", "type": "nominal"}
   },
   "layer": [
    {"mark": {"type": "line", "strokeWidth": 5, "opacity": 0.75}, "encoding": {}},
    {"mark": {"type": "circle", "size": 120, "opacity": 0.75}, "encoding": {}}
   ]
  }
 }]
}
], "align": "none", "spacing": 20},
{"hconcat": [
{"title": {"text": "E", "orient": "left", "angle": 0, "anchor": "end", "frame": "bounds", "align": "right", "baseline": "top", "fontSize": 40, "fontWeight": "bold", "offset": -24, "dy": -13},
 "vconcat": [{
  "data": {"name": "E"},
  "title": {"text": "DC.M3.3_Cell Cycle"},
  "facet": {"column": {"field": "g", "type": "nominal", "header": {"title": "Time (days)"}}},
  "spacing": 16,
  "spec": {"width": 187, "height": 576,
   "encoding": {
    "x": {"field": "d", "type": "quantitative", "scale": {"domain": [-0.35, 7.35], "nice": false, "zero": false}, "axis": {"title": null, "values": [0,0.5,1,1.5,2,2.5,3,3.5,4,4.5,5,5.5,6,6.5,7], "labelExpr": "datum.value % 1 == 0 ? format(datum.value, 'd') : ''", "gridWidth": {"condition": {"test": "datum.value % 1 == 0", "value": 3}, "value": 2.4}}},
    "y": {"field": "v", "type": "quantitative", "scale": {"domain": [-0.155, 3.046], "nice": false, "zero": false}, "axis": {"title": "Module Expression", "titlePadding": 32, "values": [0,0.5,1,1.5,2,2.5,3], "labelExpr": "datum.value % 1 == 0 ? format(datum.value, 'd') : ''", "gridWidth": {"condition": {"test": "datum.value % 1 == 0", "value": 3}, "value": 2.4}}},
    "color": {"field": "g", "type": "nominal", "scale": {"domain": ["BSPZV1 NP","BSPZV1 P","IMRAS NP","IMRAS P"], "range": ["#1B9E77","#D95F02","#1B9E77","#D95F02"]}, "legend": null},
    "detail": {"field": "s", "type": "nominal"}
   },
   "layer": [
    {"mark": {"type": "line", "strokeWidth": 5, "opacity": 0.75}, "encoding": {}},
    {"mark": {"type": "circle", "size": 120, "opacity": 0.75}, "encoding": {}}
   ]
  }
 }]
},
{"title": {"text": "F", "orient": "left", "angle": 0, "anchor": "end", "frame": "bounds", "align": "right", "baseline": "top", "fontSize": 40, "fontWeight": "bold", "offset": -24, "dy": -13},
 "vconcat": [{
  "data": {"name": "F"},
  "title": {"text": "HALLMARK_G2M_CHECKPOINT"},
  "facet": {"column": {"field": "g", "type": "nominal", "header": {"title": "Time (days)"}}},
  "spacing": 16,
  "spec": {"width": 185, "height": 576,
   "encoding": {
    "x": {"field": "d", "type": "quantitative", "scale": {"domain": [-0.35, 7.35], "nice": false, "zero": false}, "axis": {"title": null, "values": [0,0.5,1,1.5,2,2.5,3,3.5,4,4.5,5,5.5,6,6.5,7], "labelExpr": "datum.value % 1 == 0 ? format(datum.value, 'd') : ''", "gridWidth": {"condition": {"test": "datum.value % 1 == 0", "value": 3}, "value": 2.4}}},
    "y": {"field": "v", "type": "quantitative", "scale": {"domain": [4.068, 5.107], "nice": false, "zero": false}, "axis": {"title": "Module Expression", "values": [4.125,4.25,4.375,4.5,4.625,4.75,4.875,5], "labelExpr": "(datum.value*4) % 1 == 0 ? format(datum.value, '.2f') : ''", "gridWidth": {"condition": {"test": "(datum.value*4) % 1 == 0", "value": 3}, "value": 2.4}}},
    "color": {"field": "g", "type": "nominal", "scale": {"domain": ["BSPZV1 NP","BSPZV1 P","IMRAS NP","IMRAS P"], "range": ["#1B9E77","#D95F02","#1B9E77","#D95F02"]}, "legend": null},
    "detail": {"field": "s", "type": "nominal"}
   },
   "layer": [
    {"mark": {"type": "line", "strokeWidth": 5, "opacity": 0.75}, "encoding": {}},
    {"mark": {"type": "circle", "size": 120, "opacity": 0.75}, "encoding": {}}
   ]
  }
 }]
}
], "align": "none", "spacing": 20}
]
}
